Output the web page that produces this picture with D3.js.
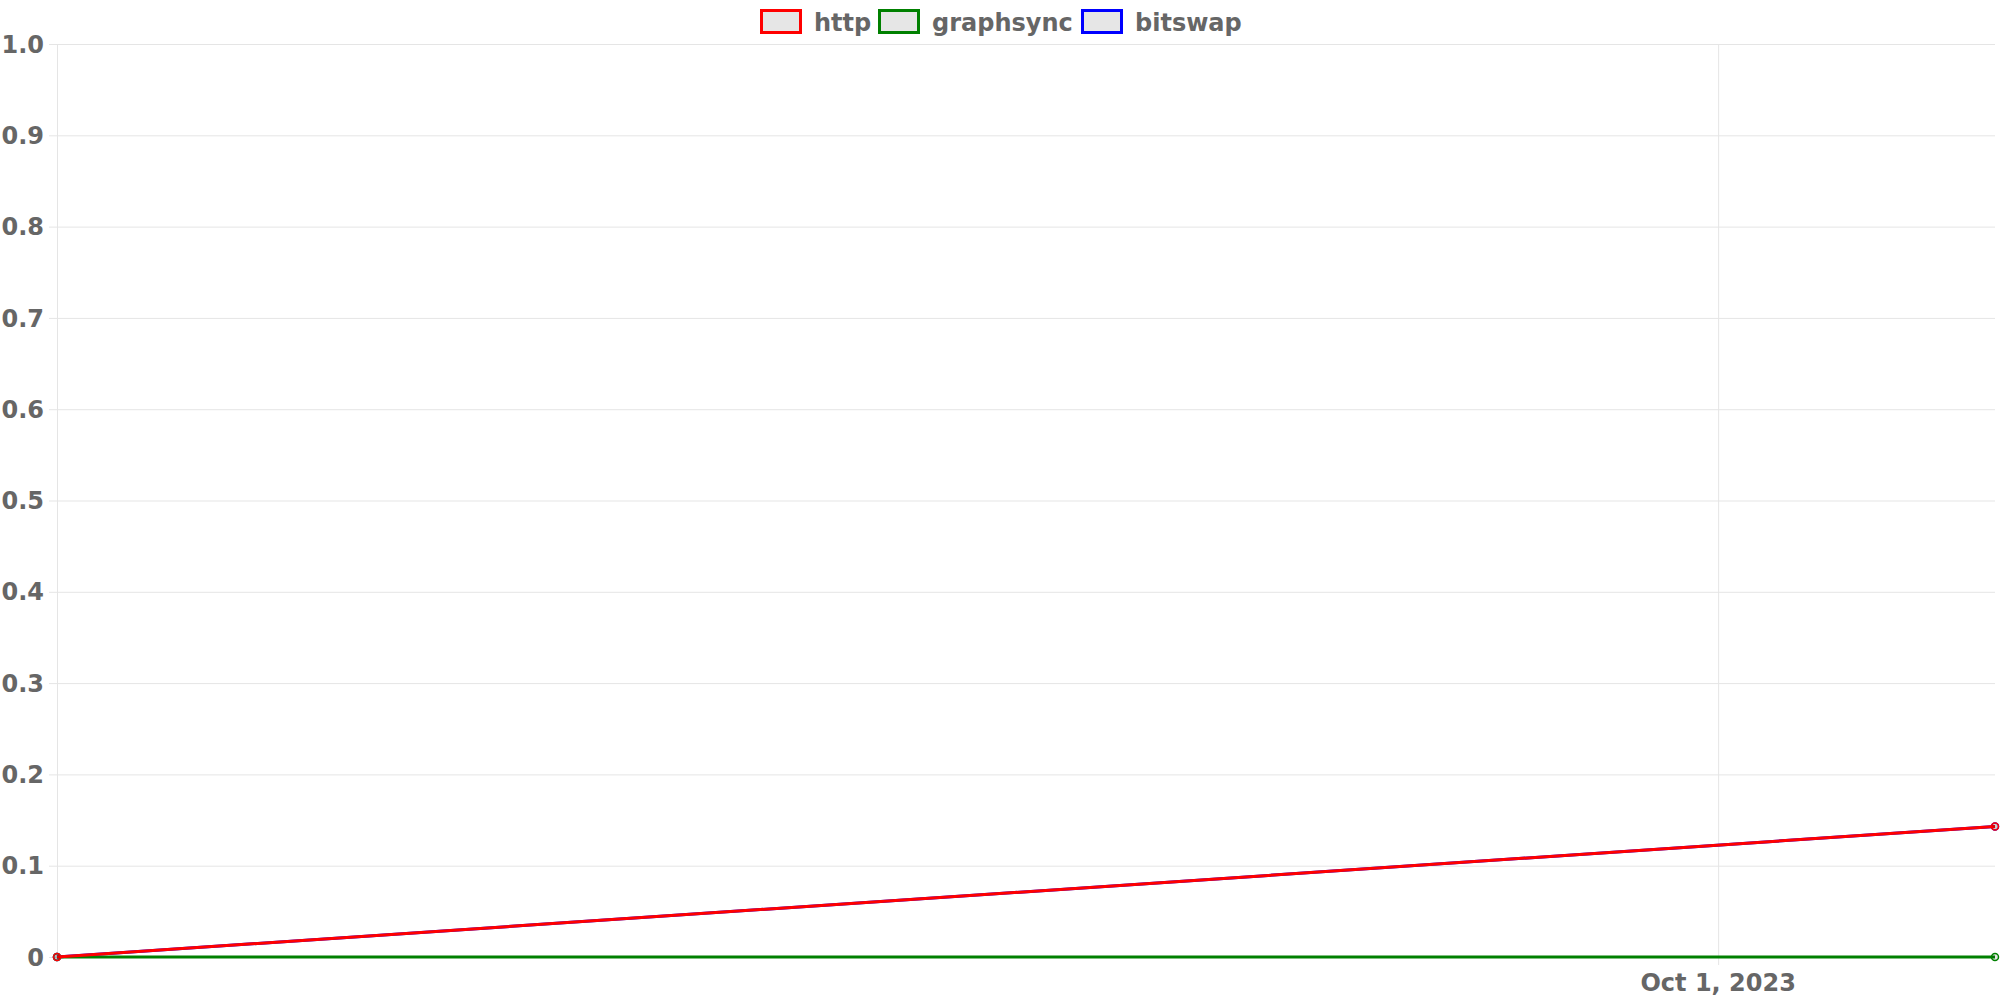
<!DOCTYPE html>
<html>
<head>
<meta charset="utf-8">
<script src="https://cdn.jsdelivr.net/npm/d3@7"></script>
<style>
  body { margin: 0; background: #fff; }
  svg { display: block; font-family: "DejaVu Sans", sans-serif; }
</style>
</head>
<body>
<div id="chart"></div>
<script>
// Data
const dates = ["2023-09-25", "2023-10-02"];
const httpValues = [0, 0.143];
const graphsyncValues = [0, 0];
const bitswapValues = [0, 0.143];
const yTicks = [0, 0.1, 0.2, 0.3, 0.4, 0.5, 0.6, 0.7, 0.8, 0.9, 1.0];
const xTicks = ["2023-10-01"];

const series = [
  {name: "http", color: "rgb(255,0,0)", values: httpValues},
  {name: "graphsync", color: "rgb(0,128,0)", values: graphsyncValues},
  {name: "bitswap", color: "rgb(0,0,255)", values: bitswapValues}
];

const width = 2000;
const height = 1000;
const margin = {top: 44, right: 5, bottom: 43, left: 57};

const parse = d3.timeParse("%Y-%m-%d");

const svg = d3.select("#chart")
  .append("svg")
  .attr("width", width)
  .attr("height", height);

const xScale = d3.scaleTime()
  .domain(d3.extent(dates, parse))
  .range([margin.left, width - margin.right]);

const yScale = d3.scaleLinear()
  .domain([0, 1])
  .range([height - margin.bottom, margin.top]);

const gridColor = "#e5e5e5";
const textColor = "#666";

// Horizontal grid + y ticks
svg.append("g")
  .selectAll("line")
  .data(yTicks)
  .join("line")
  .attr("x1", margin.left - 8)
  .attr("x2", width - margin.right)
  .attr("y1", d => yScale(d) + 0.5)
  .attr("y2", d => yScale(d) + 0.5)
  .attr("stroke", gridColor)
  .attr("stroke-width", 1);

svg.append("g")
  .selectAll("text")
  .data(yTicks)
  .join("text")
  .attr("x", margin.left - 13)
  .attr("y", d => yScale(d))
  .attr("dy", "0.36em")
  .attr("text-anchor", "end")
  .attr("fill", textColor)
  .style("font-size", "24px")
  .style("font-weight", "bold")
  .text(d => d === 0 ? "0" : d.toFixed(1));

// Vertical grid: left axis line and date ticks
svg.append("line")
  .attr("x1", margin.left + 0.5)
  .attr("x2", margin.left + 0.5)
  .attr("y1", margin.top)
  .attr("y2", height - margin.bottom)
  .attr("stroke", gridColor);

svg.append("g")
  .selectAll("line")
  .data(xTicks)
  .join("line")
  .attr("x1", d => xScale(parse(d)) + 0.5)
  .attr("x2", d => xScale(parse(d)) + 0.5)
  .attr("y1", margin.top)
  .attr("y2", height - margin.bottom + 8)
  .attr("stroke", gridColor);

svg.append("g")
  .selectAll("text")
  .data(xTicks)
  .join("text")
  .attr("x", d => xScale(parse(d)))
  .attr("y", height - 9)
  .attr("text-anchor", "middle")
  .attr("fill", textColor)
  .style("font-size", "24px")
  .style("font-weight", "bold")
  .text(d => d3.timeFormat("%b %-d, %Y")(parse(d)));

// Lines (first dataset drawn on top)
const line = d3.line()
  .x((d, i) => xScale(parse(dates[i])))
  .y(d => yScale(d));

series.slice().reverse().forEach(s => {
  svg.append("path")
    .datum(s.values)
    .attr("fill", "none")
    .attr("stroke", s.color)
    .attr("stroke-width", 3)
    .attr("d", line);

  svg.selectAll(null)
    .data(s.values)
    .join("circle")
    .attr("cx", (d, i) => xScale(parse(dates[i])))
    .attr("cy", d => yScale(d))
    .attr("r", 3.5)
    .attr("fill", "rgba(0,0,0,0.1)")
    .attr("stroke", s.color)
    .attr("stroke-width", 1.5);
});

// Legend
const legendX = [760, 878, 1081];
const legend = svg.append("g");
series.forEach((s, i) => {
  legend.append("rect")
    .attr("x", legendX[i] + 1.5)
    .attr("y", 10.5)
    .attr("width", 39)
    .attr("height", 22)
    .attr("fill", "#e6e6e6")
    .attr("stroke", s.color)
    .attr("stroke-width", 3);
  legend.append("text")
    .attr("x", legendX[i] + 54)
    .attr("y", 22)
    .attr("dy", "0.36em")
    .attr("fill", textColor)
    .style("font-size", "24px")
    .style("font-weight", "bold")
    .text(s.name);
});
</script>
</body>
</html>
